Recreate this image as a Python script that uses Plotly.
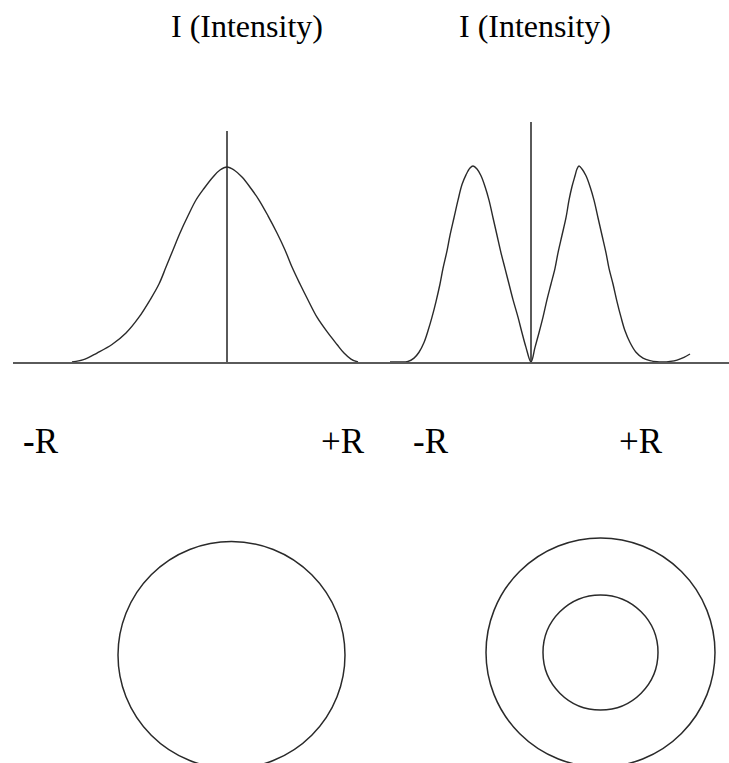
import plotly.graph_objects as go

W, H = 729, 763

# Radial intensity profiles (r in arbitrary units, intensity normalised to peak)
gauss_r = [-1.55, -1.42, -1.30, -1.15, -1.01, -0.88, -0.77, -0.68, -0.61,
           -0.54, -0.47, -0.39, -0.31, -0.23, -0.14, -0.07, 0.00,
           0.07, 0.15, 0.24, 0.32, 0.41, 0.50, 0.58, 0.65, 0.73, 0.81,
           0.90, 1.01, 1.10, 1.17, 1.24, 1.31]
gauss_i = [0.000, 0.015, 0.046, 0.090, 0.149, 0.230, 0.318, 0.400, 0.487,
           0.575, 0.662, 0.750, 0.831, 0.890, 0.949, 0.985, 1.000,
           0.985, 0.949, 0.890, 0.831, 0.750, 0.662, 0.575, 0.487, 0.400,
           0.318, 0.230, 0.149, 0.090, 0.046, 0.015, 0.000]

donut_r = [-1.41, -1.31, -1.23, -1.17, -1.12, -1.07, -1.03, -0.99, -0.95,
           -0.91, -0.88, -0.84, -0.81, -0.77, -0.73, -0.69, -0.65, -0.61,
           -0.58, -0.54, -0.50, -0.46, -0.42, -0.38, -0.34, -0.30, -0.26,
           -0.22, -0.18, -0.13, -0.09, -0.05, 0.00,
           0.04, 0.08, 0.12, 0.16, 0.20, 0.24, 0.27, 0.31, 0.35, 0.38, 0.41,
           0.44, 0.46, 0.48, 0.51, 0.55, 0.59, 0.63, 0.67, 0.71, 0.75, 0.78,
           0.82, 0.86, 0.90, 0.94, 0.99, 1.05, 1.12, 1.19, 1.26, 1.32, 1.39,
           1.46, 1.53, 1.59]
donut_i = [0.000, 0.000, 0.003, 0.020, 0.050, 0.100, 0.160, 0.230, 0.310,
           0.400, 0.480, 0.570, 0.650, 0.740, 0.830, 0.910, 0.960, 0.995,
           1.005, 0.990, 0.955, 0.900, 0.830, 0.740, 0.650, 0.560, 0.480,
           0.400, 0.320, 0.230, 0.150, 0.075, 0.000,
           0.075, 0.150, 0.230, 0.320, 0.400, 0.480, 0.560, 0.650, 0.740,
           0.830, 0.900, 0.955, 0.990, 1.005, 0.990, 0.955, 0.900, 0.830,
           0.740, 0.650, 0.560, 0.480, 0.400, 0.310, 0.230, 0.160, 0.100,
           0.050, 0.020, 0.007, 0.001, 0.000, 0.003, 0.010, 0.024, 0.041]

# Beam cross-section ring radii (same units)
spot_radii = [1.135]
ring_radii = [1.145, 0.575]

axis_title = "I (Intensity)"
edge_labels = ["<b>-</b>R", "+R", "-R", "+R"]

CURVE = "#2a2a2a"
AXIS = "#5a5a5a"
SERIF = "Liberation Serif"


def px_x(p):
    return p / W


def px_y(p):
    return 1 - p / H


fig = go.Figure()

fig.add_trace(go.Scatter(x=gauss_r, y=gauss_i, mode="lines",
                         line=dict(color=CURVE, width=1.4, shape="spline", smoothing=1.0),
                         xaxis="x", yaxis="y", showlegend=False, hoverinfo="skip"))
fig.add_trace(go.Scatter(x=donut_r, y=donut_i, mode="lines",
                         line=dict(color=CURVE, width=1.4, shape="spline", smoothing=1.0),
                         xaxis="x2", yaxis="y2", showlegend=False, hoverinfo="skip"))

# invisible anchors for the cross-section panels
for xa, ya in (("x3", "y3"), ("x4", "y4")):
    fig.add_trace(go.Scatter(x=[0], y=[0], mode="markers", marker=dict(opacity=0),
                             xaxis=xa, yaxis=ya, showlegend=False, hoverinfo="skip"))

profile_x = dict(showgrid=False, showticklabels=False, ticks="",
                 showline=True, linecolor=AXIS, linewidth=1.8,
                 zeroline=True, zerolinecolor=AXIS, zerolinewidth=1.8)
profile_y = dict(showgrid=False, showticklabels=False, ticks="",
                 showline=False, zeroline=False)
blank = dict(showgrid=False, showticklabels=False, ticks="",
             showline=False, zeroline=False)

fig.update_layout(
    width=W, height=H,
    margin=dict(l=0, r=0, t=0, b=0),
    paper_bgcolor="white", plot_bgcolor="rgba(0,0,0,0)",
    xaxis=dict(domain=[px_x(13), px_x(372)], range=[-2.14, 1.45],
               anchor="y", **profile_x),
    yaxis=dict(domain=[px_y(362), px_y(131)], range=[0, 1.185],
               anchor="x", **profile_y),
    xaxis2=dict(domain=[px_x(372), 1.0], range=[-1.59, 1.98],
                anchor="y2", **profile_x),
    yaxis2=dict(domain=[px_y(362), px_y(122)], range=[0, 1.231],
                anchor="x2", **profile_y),
    xaxis3=dict(domain=[px_x(106.5), px_x(356.5)], range=[-1.25, 1.25],
                anchor="y3", **blank),
    yaxis3=dict(domain=[0, px_y(530)], range=[-1.08, 1.25],
                anchor="x3", **blank),
    xaxis4=dict(domain=[px_x(475.5), px_x(725.5)], range=[-1.25, 1.25],
                anchor="y4", **blank),
    yaxis4=dict(domain=[0, px_y(527.5)], range=[-1.105, 1.25],
                anchor="x4", **blank),
)

shapes = []
for r in spot_radii:
    shapes.append(dict(type="circle", xref="x3", yref="y3", x0=-r, x1=r, y0=-r, y1=r,
                       line=dict(color=CURVE, width=1.5)))
for r in ring_radii:
    shapes.append(dict(type="circle", xref="x4", yref="y4", x0=-r, x1=r, y0=-r, y1=r,
                       line=dict(color=CURVE, width=1.5)))
fig.update_layout(shapes=shapes)

annotations = []
for cx in (247, 535):
    annotations.append(dict(text=axis_title, x=px_x(cx), y=px_y(26), xref="paper", yref="paper",
                            xanchor="center", yanchor="middle", showarrow=False,
                            font=dict(family=SERIF, size=32, color="black")))
for label, cx in zip(edge_labels, (40.5, 343, 430.5, 640.5)):
    annotations.append(dict(text=label, x=px_x(cx), y=px_y(441), xref="paper", yref="paper",
                            xanchor="center", yanchor="middle", showarrow=False,
                            font=dict(family=SERIF, size=35, color="black")))
fig.update_layout(annotations=annotations)

fig.write_html("out.html", config=dict(displayModeBar=False))
